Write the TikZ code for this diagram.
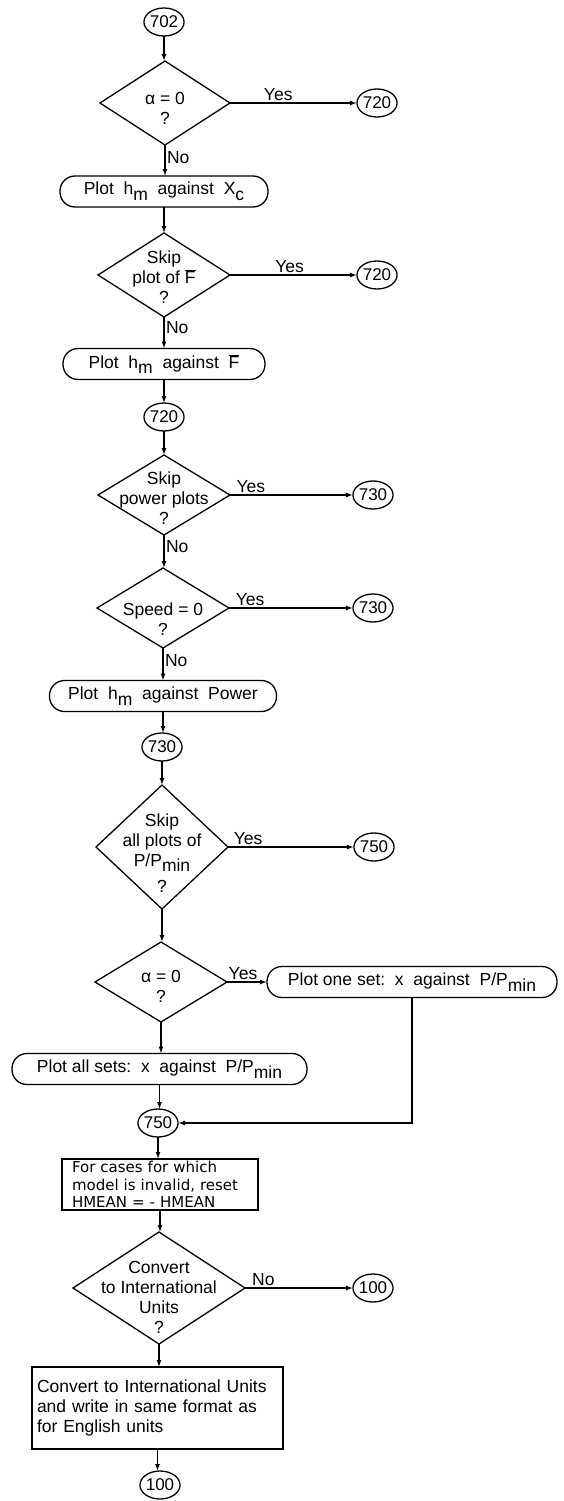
\documentclass[tikz,border=0pt]{standalone}
\usepackage{fontspec}
\setmainfont{Liberation Sans}
\newfontfamily\typefont{DejaVu Sans}
\usetikzlibrary{shapes.geometric,arrows.meta}
\newcommand\lowsub[1]{\raisebox{-0.6ex}{#1}}
\newcommand\fbar{\ensuremath{\overline{\mbox{F}}}}
\begin{document}
\begin{tikzpicture}[x=1pt,y=-1pt,
  font=\fontsize{17.5}{20}\selectfont,
  line width=1.3pt,
  every node/.style={outer sep=0pt},
  dia/.style={draw, diamond, inner sep=0pt},
  dtext/.style={align=center, inner sep=0pt},
  conn/.style={draw, ellipse, minimum width=34pt, minimum height=28pt, inner sep=0pt, font=\fontsize{17}{19}\selectfont},
  term/.style={draw, rectangle, rounded corners=15pt, minimum height=31pt, inner sep=0pt},
  proc/.style={draw, rectangle, align=left, inner ysep=0pt},
  arr/.style={-{Latex[length=7pt,width=5pt]}},
  lbl/.style={inner sep=2pt}]
\useasboundingbox (0,0) rectangle (563,1501);

\node[conn] (c702) at (164,22) {702};
\node[dia, minimum width=130pt, minimum height=84pt] (d1) at (165,103) {};
\node[dtext] (d1t) at (165,108) {α = 0\\?};
\node[conn] (c720a) at (377,103) {720};
\node[term, minimum width=208pt] (b1) at (164,191.5) {Plot\ \ h\lowsub{m}\ \ against\ \ X\lowsub{c}};
\node[dia, minimum width=132pt, minimum height=84pt] (d2) at (164,275) {};
\node[dtext] (d2t) at (164,277) {Skip\\plot of \fbar\\?};
\node[conn] (c720b) at (377,275) {720};
\node[term, minimum width=202pt] (b2) at (164,364) {Plot\ \ h\lowsub{m}\ \ against\ \ \fbar};
\node[conn] (c720c) at (164,417) {720};
\node[dia, minimum width=132pt, minimum height=80pt] (d3) at (164,495) {};
\node[dtext] (d3t) at (164,498) {Skip\\power plots\\?};
\node[conn] (c730a) at (373,495) {730};
\node[dia, minimum width=132pt, minimum height=80pt] (d4) at (163,608) {};
\node[dtext] (d4t) at (163,619) {Speed = 0\\?};
\node[conn] (c730b) at (373,608) {730};
\node[term, minimum width=227pt] (b3) at (163,696) {Plot\ \ h\lowsub{m}\ \ against\ \ Power};
\node[conn] (c730c) at (162,747) {730};
\node[dia, minimum width=132pt, minimum height=124pt] (d5) at (162,847) {};
\node[dtext] (d5t) at (162,853) {Skip\\all plots of\\P/P\lowsub{min}\\[6pt]?};
\node[conn] (c750a) at (374,847) {750};
\node[dia, minimum width=132pt, minimum height=80pt] (d6) at (161,982) {};
\node[dtext] (d6t) at (161,986) {α = 0\\?};
\node[term, minimum width=290pt] (b4) at (412,982) {Plot one set:\ \ x\ \ against\ \ P/P\lowsub{min}};
\node[term, minimum width=295pt] (b5) at (159.5,1069) {Plot all sets:\ \ x\ \ against\ \ P/P\lowsub{min}};
\node[conn] (c750b) at (158,1123) {750};
\node[proc, font=\typefont\fontsize{15}{17.5}\selectfont, text width=176pt, inner xsep=10pt, minimum height=51pt] (b6) at (160,1184.5) {For cases for which\\model is invalid, reset\\HMEAN = - HMEAN};
\node[dia, minimum width=172pt, minimum height=112pt] (d7) at (159,1288) {};
\node[dtext] (d7t) at (159,1297) {Convert\\to International\\Units\\?};
\node[conn] (c100a) at (373,1288) {100};
\node[proc, text width=241pt, inner xsep=5pt, minimum height=82pt] (b7) at (157.5,1408) {Convert to International Units\\and write in same format as\\for English units};
\node[conn] (c100b) at (160,1485) {100};

\draw[arr] (c702.south) -- (c702.south |- d1.north);
\draw[arr] (d1.east) -- node[lbl, above, pos=0.38]{Yes} (c720a.west);
\draw[arr] (d1.south) -- node[lbl, right, pos=0.4]{No} (d1.south |- b1.north);
\draw[arr] (b1.south) -- (b1.south |- d2.north);
\draw[arr] (d2.east) -- node[lbl, above, pos=0.47]{Yes} (c720b.west);
\draw[arr] (d2.south) -- node[lbl, right, pos=0.32]{No} (d2.south |- b2.north);
\draw[arr] (b2.south) -- (b2.south |- c720c.north);
\draw[arr] (c720c.south) -- (c720c.south |- d3.north);
\draw[arr] (d3.east) -- node[lbl, above, pos=0.17]{Yes} (c730a.west);
\draw[arr] (d3.south) -- node[lbl, right, pos=0.36]{No} (d3.south |- d4.north);
\draw[arr] (d4.east) -- node[lbl, above, pos=0.17]{Yes} (c730b.west);
\draw[arr] (d4.south) -- node[lbl, right, pos=0.4]{No} (d4.south |- b3.north);
\draw[arr] (b3.south) -- (b3.south |- c730c.north);
\draw[arr] (c730c.south) -- (c730c.south |- d5.north);
\draw[arr] (d5.east) -- node[lbl, above, pos=0.16]{Yes} (c750a.west);
\draw[arr] (d5.south) -- (d5.south |- d6.north);
\draw[arr] (d6.east) -- node[lbl, above, pos=0.4]{Yes} (b4.west);
\draw[arr] (d6.south) -- (d6.south |- b5.north);
\draw[arr] (b4.south) |- (c750b.east);
\draw[arr] (b5.south) -- (b5.south |- c750b.north);
\draw[arr] (c750b.south) -- (c750b.south |- b6.north);
\draw[arr] (b6.south) -- (b6.south |- d7.north);
\draw[arr] (d7.east) -- node[lbl, above, pos=0.17]{No} (c100a.west);
\draw[arr] (d7.south) -- (d7.south |- b7.north);
\draw[arr] (b7.south) -- (b7.south |- c100b.north);
\end{tikzpicture}
\end{document}
